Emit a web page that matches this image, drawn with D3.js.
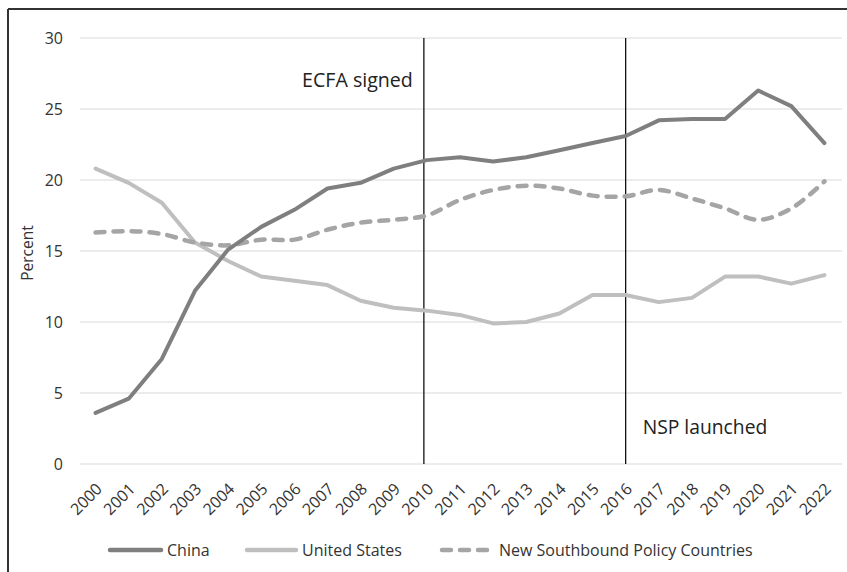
<!DOCTYPE html>
<html>
<head>
<meta charset="utf-8">
<script src="https://cdn.jsdelivr.net/npm/d3@7"></script>
<style>
  html, body { margin: 0; padding: 0; background: #fff; }
  svg { display: block; font-family: "Open Sans", sans-serif; }
</style>
</head>
<body>
<svg id="chart" width="847" height="572"></svg>
<script>
const years = ["2000","2001","2002","2003","2004","2005","2006","2007","2008","2009","2010","2011","2012","2013","2014","2015","2016","2017","2018","2019","2020","2021","2022"];
const china = [3.6,4.6,7.4,12.2,15.1,16.7,17.9,19.4,19.8,20.8,21.4,21.6,21.3,21.6,22.1,22.6,23.1,24.2,24.3,24.3,26.3,25.2,22.6];
const unitedStates = [20.8,19.8,18.4,15.6,14.3,13.2,12.9,12.6,11.5,11.0,10.8,10.5,9.9,10.0,10.6,11.9,11.9,11.4,11.7,13.2,13.2,12.7,13.3];
const nsp = [16.3,16.4,16.2,15.6,15.4,15.8,15.8,16.5,17.0,17.2,17.5,18.6,19.3,19.6,19.4,18.9,18.85,19.3,18.7,18.0,17.2,18.0,19.9];
const yTicks = [0,5,10,15,20,25,30];
const seriesNames = ["China","United States","New Southbound Policy Countries"];
const events = [{year:"2010", label:"ECFA signed"},{year:"2016", label:"NSP launched"}];

const svg = d3.select("#chart");
const plotLeft = 80, plotRight = 842, plotTop = 38, plotBottom = 464;
const textColor = "#333";

const x = d3.scalePoint().domain(years).range([79, 841]).padding(0.5);
const y = d3.scaleLinear().domain([0, 30]).range([plotBottom, plotTop]);

// frame
svg.append("line").attr("x1", 8).attr("x2", 847).attr("y1", 9).attr("y2", 9)
  .attr("stroke", "#333").attr("stroke-width", 2);
svg.append("line").attr("x1", 8).attr("x2", 8).attr("y1", 9).attr("y2", 572)
  .attr("stroke", "#333").attr("stroke-width", 2);

// gridlines
svg.append("g").selectAll("line").data(yTicks).join("line")
  .attr("x1", plotLeft).attr("x2", plotRight)
  .attr("y1", d => y(d)).attr("y2", d => y(d))
  .attr("stroke", "#d9d9d9").attr("stroke-width", 1.2);

// y axis labels
const yAxis = d3.axisLeft(y).tickValues(yTicks).tickSize(0).tickPadding(0);
const gy = svg.append("g").attr("transform", `translate(${plotLeft - 17},0)`).call(yAxis);
gy.attr("font-size", null).attr("font-family", null);
gy.select(".domain").remove();
gy.selectAll("text").style("font-size", "16px").attr("fill", textColor);

// x axis labels
const xAxis = d3.axisBottom(x).tickSize(0).tickPadding(0);
const gx = svg.append("g").attr("transform", `translate(0,${plotBottom})`).call(xAxis);
gx.attr("font-size", null).attr("font-family", null);
gx.select(".domain").remove();
gx.selectAll("text")
  .style("font-size", "16px").attr("fill", textColor)
  .attr("text-anchor", "end").attr("dy", null).attr("y", 0)
  .attr("transform", "translate(7,26) rotate(-45)");

// y axis title
svg.append("text").attr("transform", `translate(33,${(plotTop + plotBottom) / 2 + 2}) rotate(-90)`)
  .attr("text-anchor", "middle").style("font-size", "15.5px").attr("fill", textColor).text("Percent");

// event lines
svg.append("g").selectAll("line").data(events).join("line")
  .attr("x1", d => x(d.year) - (d.year === "2010" ? 3 : 0))
  .attr("x2", d => x(d.year) - (d.year === "2010" ? 3 : 0))
  .attr("y1", plotTop).attr("y2", plotBottom)
  .attr("stroke", "#111").attr("stroke-width", 1.3);

svg.append("text").attr("x", x("2010") - 14).attr("y", 87).attr("text-anchor", "end")
  .style("font-size", "19.6px").attr("fill", "#222").text(events[0].label);
svg.append("text").attr("x", x("2016") + 17).attr("y", 434).attr("text-anchor", "start")
  .style("font-size", "19.3px").attr("fill", "#222").text(events[1].label);

// series lines
const linePlain = d3.line().x((d, i) => x(years[i])).y(d => y(d));
const lineSmooth = d3.line().x((d, i) => x(years[i])).y(d => y(d)).curve(d3.curveCatmullRom.alpha(0.5));

svg.append("path").datum(unitedStates).attr("d", linePlain)
  .attr("fill", "none").attr("stroke", "#bfbfbf").attr("stroke-width", 4)
  .attr("stroke-linejoin", "round").attr("stroke-linecap", "round");
svg.append("path").datum(nsp).attr("d", lineSmooth)
  .attr("fill", "none").attr("stroke", "#a5a5a5").attr("stroke-width", 4.5)
  .attr("stroke-dasharray", "9,9").attr("stroke-linecap", "round");
svg.append("path").datum(china).attr("d", linePlain)
  .attr("fill", "none").attr("stroke", "#7f7f7f").attr("stroke-width", 4)
  .attr("stroke-linejoin", "round").attr("stroke-linecap", "round");

// legend
const legendY = 550;
const legendItems = [
  {name: seriesNames[0], x0: 110, x1: 161, color: "#7f7f7f", dash: null},
  {name: seriesNames[1], x0: 247, x1: 296, color: "#bfbfbf", dash: null},
  {name: seriesNames[2], x0: 442, x1: 487, color: "#a5a5a5", dash: "9,9"}
];
const lg = svg.append("g").selectAll("g").data(legendItems).join("g");
lg.append("line").attr("x1", d => d.x0).attr("x2", d => d.x1)
  .attr("y1", legendY).attr("y2", legendY)
  .attr("stroke", d => d.color).attr("stroke-width", 4.5).attr("stroke-linecap", "round")
  .attr("stroke-dasharray", d => d.dash);
lg.append("text").attr("x", d => d.x1 + (d.dash ? 12 : 6)).attr("y", legendY + 6)
  .style("font-size", "16px").attr("fill", textColor).text(d => d.name);
</script>
</body>
</html>
